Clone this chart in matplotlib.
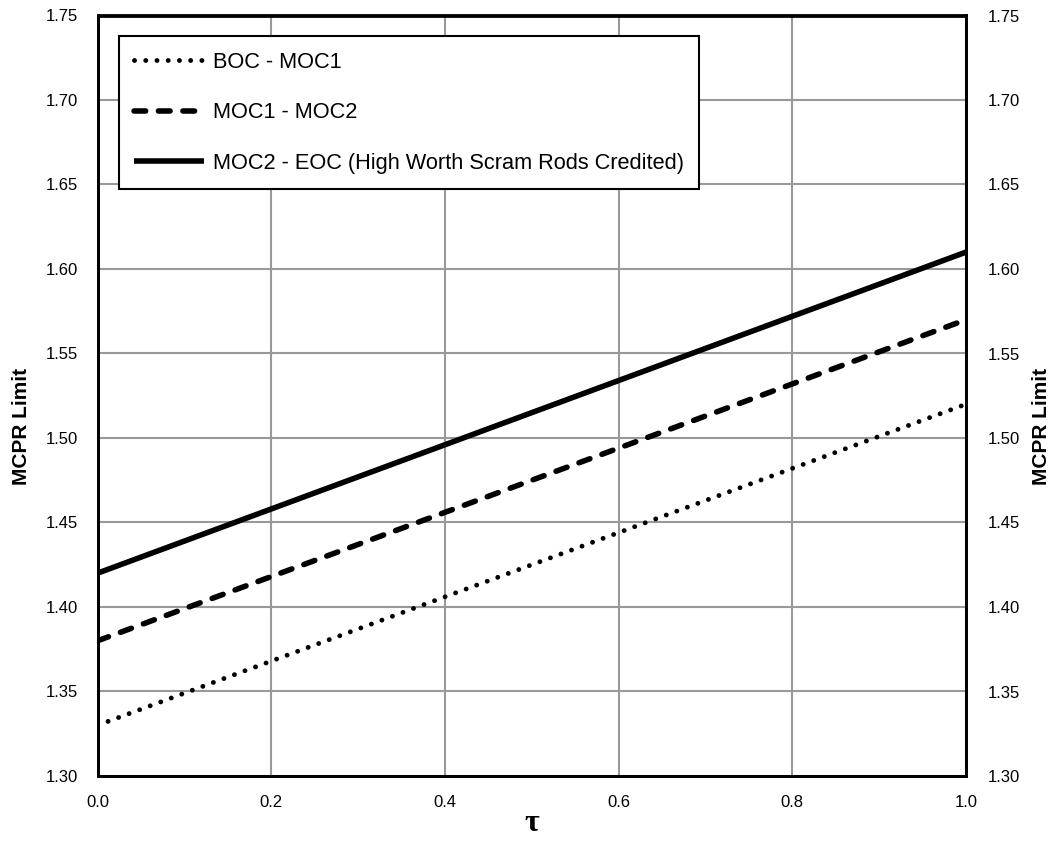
import matplotlib.pyplot as plt
import numpy as np

plt.rcParams['font.family'] = ['Liberation Sans', 'DejaVu Sans']

tau = [0.0, 1.0]
boc_moc1 = [1.33, 1.52]
moc1_moc2 = [1.38, 1.57]
moc2_eoc = [1.42, 1.61]
labels = ['BOC - MOC1', 'MOC1 - MOC2', 'MOC2 - EOC (High Worth Scram Rods Credited)']
xticks = np.arange(0, 1.01, 0.2)
yticks = np.arange(1.30, 1.751, 0.05)

fig = plt.figure(figsize=(10.52, 8.42), dpi=100)
ax = fig.add_axes([97.5 / 1052, 66 / 842, 868.5 / 1052, 760.5 / 842])

ax.plot(tau, boc_moc1, color='black', lw=3.5, linestyle=(0, (0.01, 2.3)),
        dash_capstyle='round', label=labels[0])
ax.plot(tau, moc1_moc2, color='black', lw=4, linestyle=(0, (2.1, 2.3)),
        dash_capstyle='round', label=labels[1])
ax.plot(tau, moc2_eoc, color='black', lw=4, solid_capstyle='butt', label=labels[2])

ax.set_xlim(0, 1)
ax.set_ylim(1.30, 1.75)
ax.set_xticks(xticks)
ax.set_yticks(yticks)
ax.set_xticklabels(['%.1f' % v for v in xticks])
ax.set_yticklabels(['%.2f' % v for v in yticks])
ax.grid(True, color='#999999', lw=1.5)
ax.set_axisbelow(True)
ax.tick_params(length=0, labelsize=12)
ax.tick_params(axis='x', pad=14)
ax.tick_params(axis='y', pad=14)
for s in ax.spines.values():
    s.set_linewidth(2)

ax.set_xlabel('τ', fontsize=23, family=['Liberation Serif', 'DejaVu Serif'],
              fontweight='bold', labelpad=-1)
ax.set_ylabel('MCPR Limit', fontsize=15, fontweight='bold')
ax.yaxis.set_label_coords(-0.077, 0.46)

ax2 = ax.twinx()
ax2.set_ylim(1.30, 1.75)
ax2.set_yticks(yticks)
ax2.set_yticklabels(['%.2f' % v for v in yticks])
ax2.tick_params(length=0, labelsize=12, pad=16)
ax2.set_ylabel('MCPR Limit', fontsize=15, fontweight='bold')
ax2.yaxis.set_label_coords(1.076, 0.46)
for s in ax2.spines.values():
    s.set_linewidth(2)

leg = ax.legend(loc='upper left', bbox_to_anchor=(0.0248, 0.9724), borderaxespad=0,
                fontsize=15.7, frameon=True, fancybox=False, handlelength=3.2,
                labelspacing=1.36, borderpad=0.7, handletextpad=0.4)
leg.get_frame().set_edgecolor('black')
leg.get_frame().set_linewidth(1.5)
leg.get_frame().set_alpha(1)

fig.savefig('out.png', dpi=100)
